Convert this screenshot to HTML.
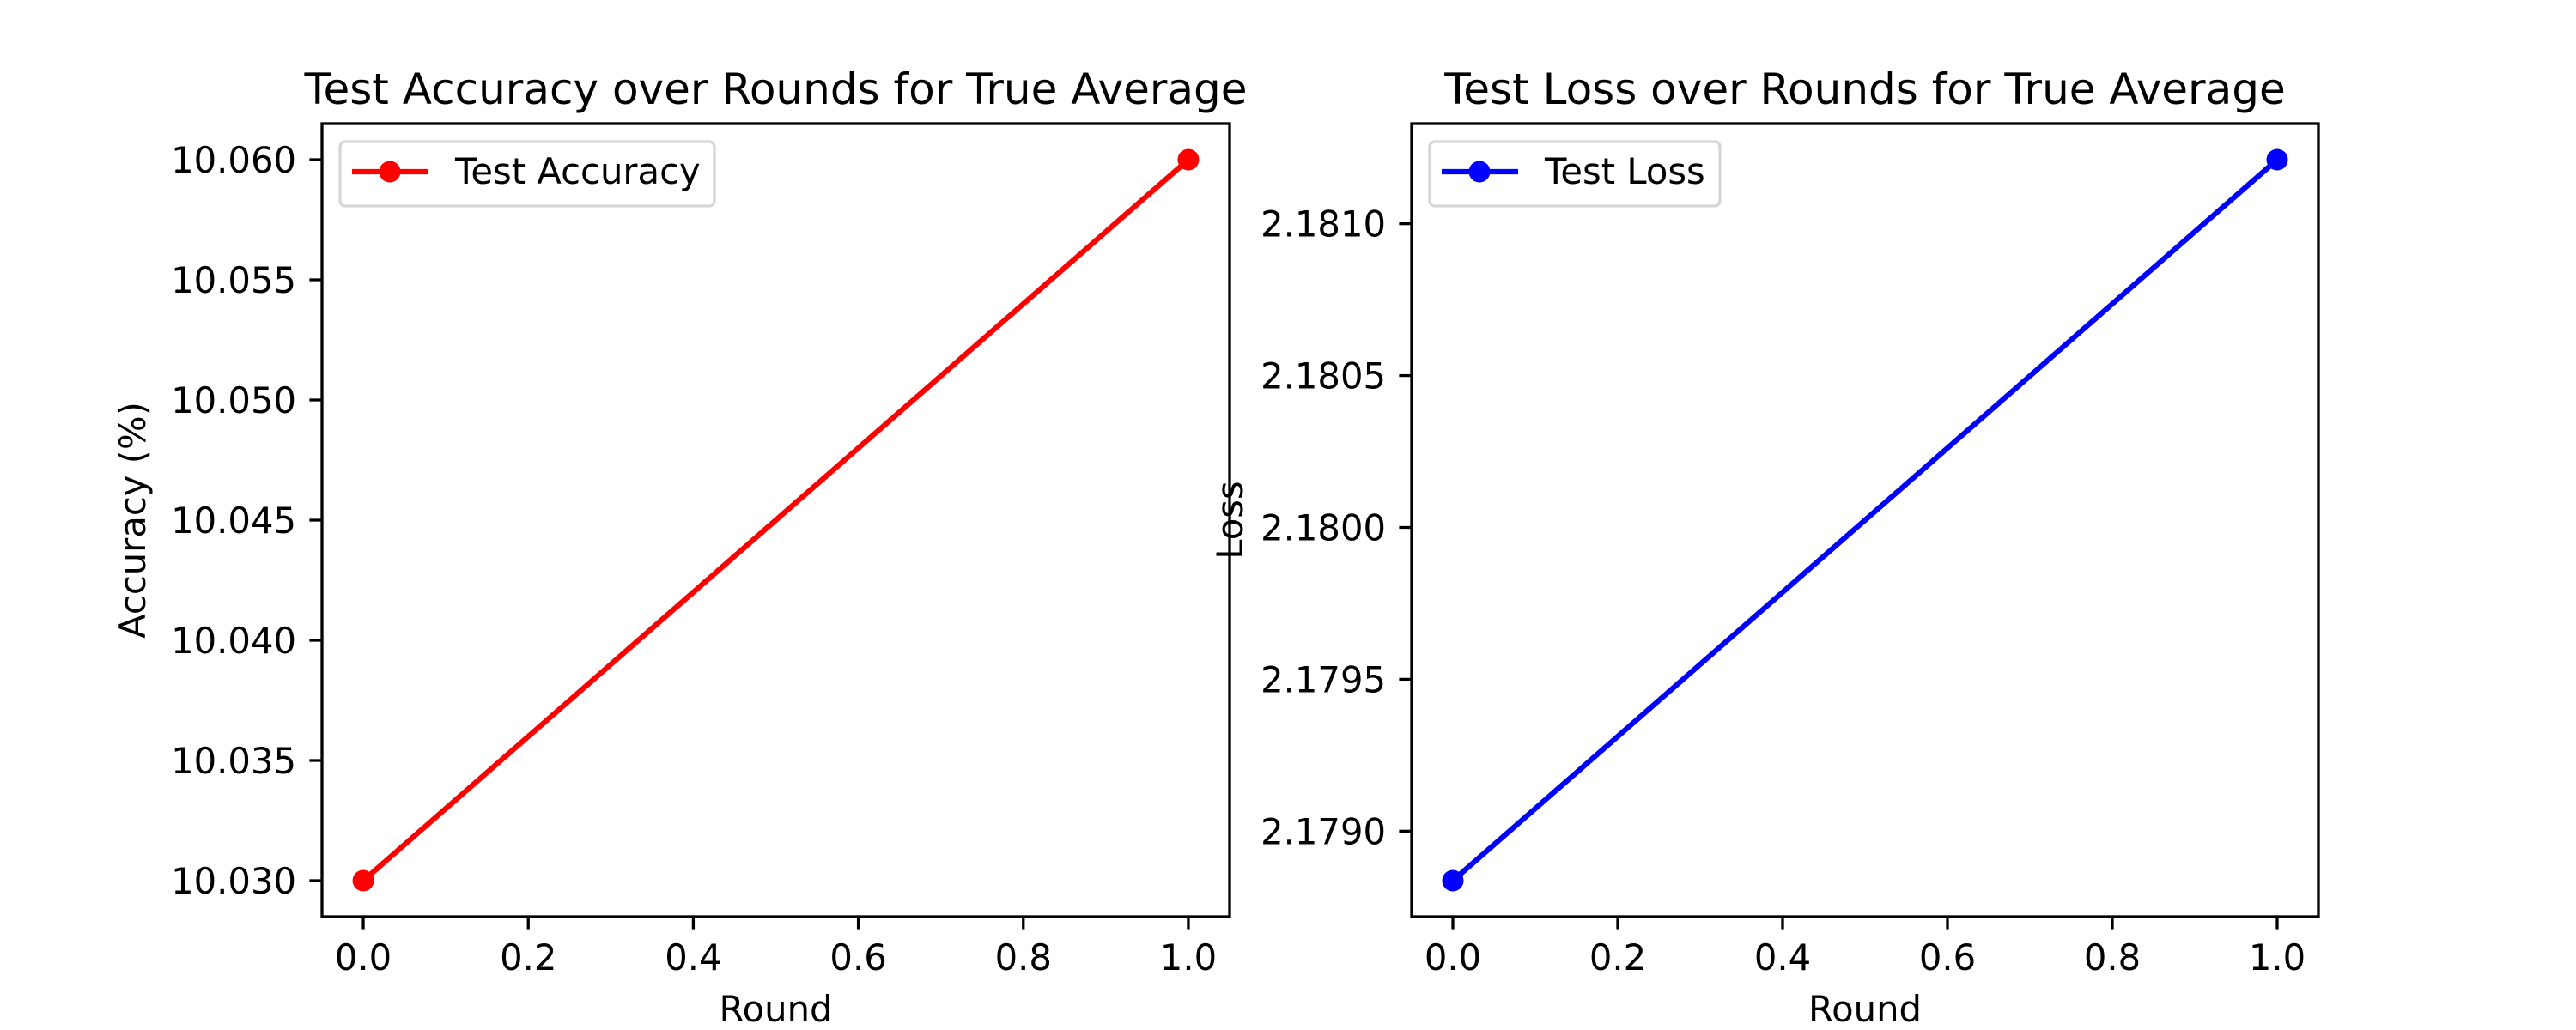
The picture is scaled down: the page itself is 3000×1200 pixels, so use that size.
<!DOCTYPE html>
<html><head><meta charset="utf-8"><style>
html,body{margin:0;padding:0;background:#fff;}
svg{display:block;font-family:"DejaVu Sans","Liberation Sans",sans-serif;}
</style></head><body>
<svg id="fig" width="3000" height="1200" viewBox="0 0 3000 1200"></svg>
<script>
const rounds = [0, 1];
const accuracy = [10.030, 10.060];
const loss = [2.178837, 2.181211];
const xTicks = [0, 0.2, 0.4, 0.6, 0.8, 1.0];
const xTickLabels = ["0.0","0.2","0.4","0.6","0.8","1.0"];
const accTicks = [10.030, 10.035, 10.040, 10.045, 10.050, 10.055, 10.060];
const accTickLabels = ["10.030","10.035","10.040","10.045","10.050","10.055","10.060"];
const lossTicks = [2.1790, 2.1795, 2.1800, 2.1805, 2.1810];
const lossTickLabels = ["2.1790","2.1795","2.1800","2.1805","2.1810"];

const NS = "http://www.w3.org/2000/svg";
const svg = document.getElementById('fig');
function el(tag, attrs, parent, text){
  const e = document.createElementNS(NS, tag);
  for (const k in attrs) e.setAttribute(k, attrs[k]);
  if (text !== undefined) e.textContent = text;
  (parent || svg).appendChild(e);
  return e;
}
const FS = '41.7px';
function panel(cfg){
  const g = el('g', {});
  
  
  const L=cfg.left, R=cfg.right, T=144, B=1068;
  const xmin=-0.05, xmax=1.05;
  const vmin=Math.min(...cfg.values), vmax=Math.max(...cfg.values), pad=(vmax-vmin)*0.05;
  const ymin=vmin-pad, ymax=vmax+pad;
  const sx=v=>L+(v-xmin)/(xmax-xmin)*(R-L);
  const sy=v=>B-(v-ymin)/(ymax-ymin)*(B-T);
  const t = el('text',{x:(L+R)/2,y:121,'text-anchor':'middle','font-size':'50px',fill:'#000'},g,cfg.title);
  
  
  xTicks.forEach((v,i)=>{
    const x=sx(v);
    const tk=el('line',{x1:x,x2:x,y1:B,y2:B+14.6,stroke:'#000','stroke-width':3.3},g);
    
    
    const tl=el('text',{x:x,y:1130,'text-anchor':'middle','font-size':FS},g,xTickLabels[i]);
    
    
  });
  cfg.ticks.forEach((v,i)=>{
    const y=sy(v);
    const tk=el('line',{x1:L-14.6,x2:L,y1:y,y2:y,stroke:'#000','stroke-width':3.3},g);
    
    
    const tl=el('text',{x:L-30,y:y+15,'text-anchor':'end','font-size':FS},g,cfg.tickLabels[i]);
    
    
  });
  const xl=el('text',{x:(L+R)/2,y:1190,'text-anchor':'middle','font-size':FS},g,'Round');
  
  
  const yx=cfg.ylabelX, yc=(T+B)/2;
  const yl=el('text',{x:-yc,y:0,'text-anchor':'middle','font-size':FS,transform:`translate(${yx} 0) rotate(-90)`},g,cfg.ylabel);
  
  
  const pts=rounds.map((r,i)=>sx(r)+','+sy(cfg.values[i])).join(' ');
  const ln=el('polyline',{points:pts,fill:'none',stroke:cfg.color,'stroke-width':6.25},g);
  
  
  rounds.forEach((r,i)=>{
    const c=el('circle',{cx:sx(r),cy:sy(cfg.values[i]),r:12.5,fill:cfg.color},g);
    
    
  });
  const fr=el('rect',{x:L,y:T,width:R-L,height:B-T,fill:'none',stroke:'#000','stroke-width':3.3},g);
  
  
  const lg=el('g',{},g);
  
  
  el('rect',{x:L+21,y:165,width:cfg.legendW,height:75,rx:6,fill:'#fff','fill-opacity':0.8,stroke:'#d6d6d6','stroke-width':3.3},lg);
  el('line',{x1:L+35,x2:L+124,y1:200,y2:200,stroke:cfg.color,'stroke-width':6.25},lg);
  el('circle',{cx:L+79,cy:200,r:12.5,fill:cfg.color},lg);
  const lt=el('text',{x:L+155,y:214,'font-size':FS},lg,cfg.legend);
  
  
}
panel({name:'accuracy-panel',left:375,right:1432,values:accuracy,ticks:accTicks,tickLabels:accTickLabels,
  title:'Test Accuracy over Rounds for True Average',ylabel:'Accuracy (%)',ylabelX:169,color:'#ff0000',legend:'Test Accuracy',legendW:436});
panel({name:'loss-panel',left:1644,right:2700,values:loss,ticks:lossTicks,tickLabels:lossTickLabels,
  title:'Test Loss over Rounds for True Average',ylabel:'Loss',ylabelX:1447,color:'#0000ff',legend:'Test Loss',legendW:338});
</script>
</body></html>
